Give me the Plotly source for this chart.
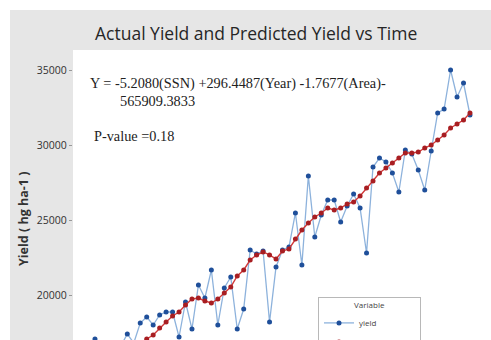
import plotly.graph_objects as go

# Years of record
years = list(range(1961, 2020))

# Observed yield (hg/ha)
yield_actual = [
    17067, 16400, 16200, 15900, 16600, 17400, 16800, 18133, 18533, 18000,
    18667, 18867, 18867, 17200, 19533, 17733, 20667, 19800, 21667, 18000,
    20467, 21200, 17733, 19067, 23000, 22733, 22933, 18200, 21867, 23000,
    23200, 25467, 22000, 27933, 23867, 25333, 26333, 26333, 24867, 25933,
    26733, 25800, 22800, 28533, 29133, 28867, 28133, 26867, 29667, 29400,
    28333, 27000, 29600, 32133, 32400, 35000, 33200, 34133, 32000,
]

# Fitted yield from the regression model (hg/ha)
yield_predicted = [
    14800, 15000, 15200, 15400, 15700, 16000, 16300, 16700, 17067, 17333,
    17800, 18200, 18600, 18867, 19333, 19733, 19800, 19600, 19467, 19733,
    20133, 20533, 21267, 21667, 22333, 22667, 22867, 22667, 22400, 22933,
    23067, 23733, 24333, 24800, 25200, 25467, 25800, 25667, 25800, 26067,
    26200, 26600, 27133, 27600, 28133, 28467, 28800, 29133, 29467, 29467,
    29533, 29800, 30000, 30333, 30667, 31133, 31400, 31667, 32133,
]

y_ticks = [20000, 25000, 30000, 35000]

W, H = 491, 340
ML, MT = 73, 50
PW, PH = W - ML, H - MT

fig = go.Figure()
fig.add_trace(go.Scatter(
    x=years, y=yield_actual, name="yield", mode="lines+markers",
    line=dict(color="#8db2dc", width=1.3),
    marker=dict(color="#1f4f9a", size=5, symbol="circle"),
))
fig.add_trace(go.Scatter(
    x=years, y=yield_predicted, name="predicted yield", mode="lines+markers",
    line=dict(color="#d23a3a", width=1.4),
    marker=dict(color="#a81e22", size=5, symbol="circle"),
))


def px_x(p):
    return (p - ML) / PW


def px_y(p):
    return (H - p) / PH


shapes = [
    # white margin strips round the grey chart background
    dict(type="rect", xref="paper", yref="paper", x0=px_x(0), x1=1.0,
         y0=px_y(10), y1=px_y(0), fillcolor="white", line_width=0, layer="below"),
    dict(type="rect", xref="paper", yref="paper", x0=px_x(0), x1=px_x(10),
         y0=0, y1=px_y(0), fillcolor="white", line_width=0, layer="below"),
]

serif = dict(family="Liberation Serif, Times New Roman, serif", size=14.3, color="#222")
annotations = [
    dict(text="Actual Yield and Predicted Yield vs Time", xref="paper", yref="paper",
         x=px_x(256), y=px_y(33), showarrow=False, xanchor="center", yanchor="middle",
         font=dict(family="Open Sans, sans-serif", size=17.5, color="#262626")),
    dict(text="Y = -5.2080(SSN) +296.4487(Year) -1.7677(Area)-", xref="paper", yref="paper",
         x=px_x(88), y=px_y(83), showarrow=False, xanchor="left", yanchor="middle", font=serif),
    dict(text="565909.3833", xref="paper", yref="paper",
         x=px_x(118), y=px_y(101), showarrow=False, xanchor="left", yanchor="middle", font=serif),
    dict(text="P-value =0.18", xref="paper", yref="paper",
         x=px_x(92), y=px_y(136), showarrow=False, xanchor="left", yanchor="middle", font=serif),
    dict(text="<b>Yield ( hg ha-1 )</b>", xref="paper", yref="paper", textangle=-90,
         x=px_x(24), y=px_y(219), showarrow=False, xanchor="center", yanchor="middle",
         font=dict(family="Open Sans, sans-serif", size=12.5, color="#333")),
]

fig.update_layout(
    width=W, height=H,
    margin=dict(l=ML, r=0, t=MT, b=0, pad=0, autoexpand=False),
    paper_bgcolor="#e6e6e6", plot_bgcolor="white",
    showlegend=True,
    legend=dict(
        x=px_x(318), y=px_y(297), xanchor="left", yanchor="top",
        bgcolor="white", bordercolor="#b8b8b8", borderwidth=1,
        font=dict(family="Open Sans, sans-serif", size=8, color="#444"),
        title=dict(text="Variable", side="top center",
                   font=dict(family="Open Sans, sans-serif", size=8, color="#444")),
        itemwidth=30, tracegroupgap=0,
    ),
    xaxis=dict(range=[1957.6, 2022.25], visible=False, showgrid=False, zeroline=False),
    yaxis=dict(range=[17000, 36333], tickvals=y_ticks, tickformat="d",
               showgrid=False, zeroline=False,
               showline=False, ticks="outside", ticklen=3, tickcolor="#999",
               tickfont=dict(family="Open Sans, sans-serif", size=10.5, color="#333")),
    shapes=shapes, annotations=annotations,
)

fig.write_html("out.html")
